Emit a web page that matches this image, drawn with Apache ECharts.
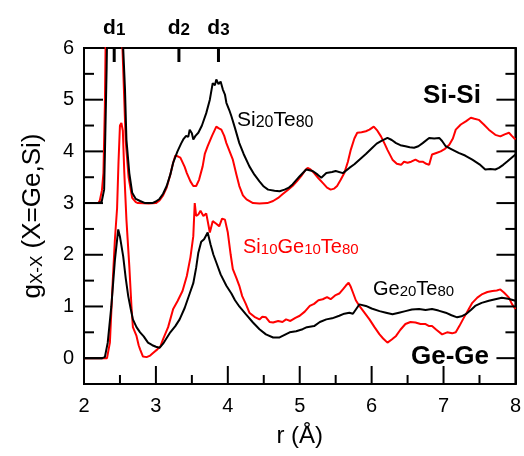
<!DOCTYPE html>
<html><head><meta charset="utf-8">
<script src="https://cdn.jsdelivr.net/npm/echarts@6/dist/echarts.min.js"></script>
<style>html,body{margin:0;padding:0;background:#fff}#c{width:524px;height:456px}</style>
</head><body><div id="c"></div>
<script>
const FONT = 'Liberation Sans, Arial, Helvetica, sans-serif';
const SI_SHIFT = 3;               // Si-Si curves are shifted up by 3
const xRange = [2, 8];
const yRange = [-0.5, 6];
const xMajorTicks = [3, 4, 5, 6, 7];
const xMinorTicks = [2.5, 3.5, 4.5, 5.5, 6.5, 7.5];
const yLabels = [0, 1, 2, 3, 4, 5, 6];
const yMajorTicks = [0, 1, 2, 3, 4, 5];
const yMinorTicks = [0.5, 1.5, 2.5, 3.5, 4.5, 5.5];
const dMarks = [2.42, 3.32, 3.87];
const dNames = ['1', '2', '3'];

// Si-Si pair correlation, Si20Te80 (black), unshifted
const siSi_Si20Te80 = [[2.0,0],[2.2,0],[2.245,0.02],[2.28,0.26],[2.295,1.23],[2.315,2.64],[2.33,4.0],[2.38,6.5],[2.43,7.5],[2.48,6.0],[2.52,4.0],[2.545,3.0],[2.57,2.2],[2.59,1.23],[2.63,0.58],[2.67,0.2],[2.72,0.08],[2.78,0.04],[2.85,0],[2.95,0],[3.0,0.03],[3.05,0.08],[3.1,0.18],[3.15,0.33],[3.2,0.55],[3.24,0.78],[3.3,1.0],[3.35,1.15],[3.38,1.23],[3.42,1.3],[3.45,1.28],[3.47,1.42],[3.5,1.35],[3.52,1.23],[3.55,1.3],[3.59,1.36],[3.64,1.5],[3.7,1.74],[3.75,2.0],[3.79,2.32],[3.82,2.28],[3.84,2.39],[3.87,2.3],[3.9,2.35],[3.93,2.2],[3.96,2.1],[3.98,1.94],[4.02,1.8],[4.05,1.68],[4.1,1.45],[4.16,1.16],[4.22,0.95],[4.3,0.71],[4.37,0.55],[4.44,0.42],[4.5,0.32],[4.56,0.26],[4.65,0.24],[4.72,0.23],[4.79,0.26],[4.85,0.3],[4.9,0.36],[5.0,0.52],[5.09,0.65],[5.18,0.62],[5.25,0.55],[5.3,0.49],[5.37,0.58],[5.45,0.6],[5.5,0.62],[5.6,0.58],[5.69,0.68],[5.76,0.75],[5.83,0.84],[5.92,0.95],[6.01,1.07],[6.07,1.15],[6.13,1.2],[6.22,1.26],[6.28,1.22],[6.34,1.16],[6.4,1.12],[6.47,1.1],[6.53,1.08],[6.59,1.07],[6.65,1.1],[6.71,1.16],[6.8,1.26],[6.87,1.25],[6.94,1.26],[6.98,1.2],[7.03,1.1],[7.1,1.05],[7.21,0.97],[7.3,0.92],[7.4,0.84],[7.5,0.75],[7.58,0.65],[7.65,0.66],[7.72,0.65],[7.77,0.68],[7.83,0.74],[7.89,0.81],[8.0,0.94]];

// Si-Si pair correlation, Si10Ge10Te80 (red), unshifted
const siSi_Si10Ge10Te80 = [[2.0,0],[2.2,0],[2.22,0.05],[2.25,0.25],[2.27,0.58],[2.29,1.87],[2.3,3.0],[2.32,5.0],[2.36,7.0],[2.42,8.0],[2.48,6.5],[2.52,4.0],[2.535,3.0],[2.56,2.0],[2.58,1.2],[2.62,0.5],[2.67,0.1],[2.72,0.02],[2.75,0],[2.9,-0.01],[3.0,0],[3.05,0.05],[3.1,0.15],[3.15,0.3],[3.2,0.55],[3.24,0.78],[3.27,0.92],[3.31,0.9],[3.34,0.88],[3.36,0.85],[3.4,0.7],[3.43,0.58],[3.48,0.42],[3.52,0.33],[3.56,0.33],[3.6,0.45],[3.65,0.71],[3.68,0.95],[3.72,1.1],[3.78,1.3],[3.84,1.48],[3.87,1.45],[3.91,1.42],[3.95,1.3],[3.98,1.16],[4.07,0.84],[4.12,0.55],[4.16,0.33],[4.21,0.15],[4.26,0.07],[4.35,0],[4.44,-0.01],[4.55,0],[4.63,0.04],[4.7,0.1],[4.76,0.17],[4.83,0.25],[4.9,0.33],[4.96,0.42],[5.02,0.52],[5.08,0.64],[5.11,0.68],[5.15,0.65],[5.2,0.58],[5.26,0.48],[5.32,0.39],[5.38,0.3],[5.43,0.26],[5.48,0.28],[5.52,0.33],[5.57,0.45],[5.62,0.58],[5.67,0.8],[5.71,1.03],[5.76,1.25],[5.8,1.36],[5.86,1.37],[5.92,1.39],[5.97,1.42],[6.03,1.48],[6.08,1.4],[6.13,1.29],[6.18,1.15],[6.22,1.03],[6.29,0.84],[6.35,0.76],[6.41,0.74],[6.45,0.8],[6.5,0.78],[6.55,0.8],[6.61,0.84],[6.66,0.8],[6.71,0.8],[6.76,0.76],[6.8,0.74],[6.84,0.94],[6.9,0.97],[6.96,1.0],[7.02,1.05],[7.08,1.13],[7.13,1.25],[7.17,1.42],[7.24,1.52],[7.31,1.58],[7.38,1.65],[7.43,1.63],[7.49,1.61],[7.56,1.52],[7.63,1.42],[7.72,1.32],[7.79,1.29],[7.85,1.33],[7.91,1.36],[7.95,1.3],[8.0,1.23]];

// Ge-Ge pair correlation, Ge20Te80 (black)
const geGe_Ge20Te80 = [[2.0,0],[2.25,0],[2.29,0.02],[2.33,0.3],[2.38,1.0],[2.43,1.9],[2.476,2.49],[2.5,2.35],[2.545,1.97],[2.58,1.55],[2.615,1.2],[2.65,0.95],[2.68,0.75],[2.73,0.6],[2.78,0.5],[2.83,0.42],[2.89,0.3],[2.95,0.25],[3.0,0.22],[3.05,0.2],[3.1,0.28],[3.2,0.5],[3.27,0.62],[3.33,0.75],[3.4,0.97],[3.47,1.25],[3.52,1.45],[3.56,1.75],[3.59,2.04],[3.63,2.25],[3.67,2.3],[3.72,2.43],[3.76,2.2],[3.8,2.0],[3.84,1.85],[3.9,1.62],[3.98,1.4],[4.05,1.25],[4.1,1.12],[4.16,1.0],[4.25,0.85],[4.35,0.69],[4.44,0.56],[4.53,0.46],[4.63,0.4],[4.72,0.4],[4.79,0.45],[4.86,0.5],[4.95,0.52],[5.04,0.56],[5.1,0.6],[5.2,0.62],[5.28,0.7],[5.37,0.75],[5.45,0.77],[5.55,0.82],[5.62,0.86],[5.69,0.88],[5.74,0.86],[5.8,0.98],[5.83,1.04],[5.92,1.01],[6.0,0.96],[6.11,0.91],[6.2,0.88],[6.29,0.85],[6.38,0.88],[6.47,0.91],[6.56,0.94],[6.66,0.95],[6.75,0.93],[6.84,0.95],[6.93,0.92],[7.03,0.88],[7.11,0.83],[7.19,0.79],[7.25,0.81],[7.31,0.85],[7.38,0.93],[7.44,1.01],[7.53,1.07],[7.63,1.11],[7.72,1.14],[7.81,1.17],[7.9,1.15],[8.0,1.11]];

// Ge-Ge pair correlation, Si10Ge10Te80 (red)
const geGe_Si10Ge10Te80 = [[2.0,0],[2.32,0],[2.36,0.3],[2.4,1.5],[2.43,2.3],[2.46,2.9],[2.48,3.8],[2.5,4.5],[2.52,4.55],[2.54,4.4],[2.56,3.6],[2.59,2.68],[2.63,1.78],[2.66,1.0],[2.68,0.6],[2.71,0.5],[2.73,0.43],[2.76,0.25],[2.78,0.17],[2.82,0.03],[2.87,0.02],[2.92,0.05],[2.96,0.1],[3.02,0.17],[3.06,0.22],[3.1,0.37],[3.17,0.6],[3.24,0.95],[3.3,1.1],[3.37,1.3],[3.43,1.59],[3.48,1.95],[3.52,2.36],[3.54,3.0],[3.56,2.75],[3.59,2.78],[3.62,2.85],[3.66,2.75],[3.7,2.8],[3.72,2.81],[3.75,2.43],[3.79,2.65],[3.84,2.6],[3.88,2.55],[3.92,2.7],[3.96,2.68],[4.0,2.43],[4.04,2.0],[4.07,1.72],[4.12,1.55],[4.16,1.4],[4.2,1.2],[4.25,1.05],[4.3,0.88],[4.37,0.8],[4.44,0.75],[4.48,0.8],[4.53,0.79],[4.58,0.7],[4.63,0.69],[4.7,0.72],[4.76,0.7],[4.81,0.75],[4.87,0.72],[4.94,0.78],[5.0,0.82],[5.07,0.9],[5.14,1.01],[5.2,1.05],[5.26,1.12],[5.32,1.14],[5.38,1.18],[5.43,1.14],[5.5,1.22],[5.55,1.25],[5.6,1.33],[5.64,1.4],[5.68,1.46],[5.71,1.38],[5.74,1.27],[5.78,1.12],[5.83,1.01],[5.9,0.88],[5.97,0.75],[6.04,0.6],[6.11,0.46],[6.16,0.38],[6.22,0.3],[6.28,0.36],[6.34,0.43],[6.4,0.55],[6.47,0.66],[6.54,0.7],[6.61,0.69],[6.68,0.66],[6.75,0.66],[6.8,0.62],[6.84,0.62],[6.9,0.55],[6.98,0.46],[7.05,0.5],[7.12,0.48],[7.17,0.5],[7.22,0.62],[7.27,0.75],[7.33,0.9],[7.4,1.07],[7.47,1.17],[7.54,1.24],[7.61,1.28],[7.68,1.3],[7.74,1.31],[7.79,1.33],[7.84,1.27],[7.91,1.17],[7.95,1.05],[8.0,0.95]];

const shifted = arr => arr.map(p => [p[0], p[1] + SI_SHIFT]);

const chart = echarts.init(document.getElementById('c'));
const line = () => ({show: true, onZero: false, lineStyle: {color: '#000', width: 2}});
const subRich = (main, sub, color, bold) => ({
  m: {fontSize: main, fontFamily: FONT, fontWeight: bold ? 'bold' : 'normal', lineHeight: main + 4, verticalAlign: 'bottom', color: color, fill: color},
  s: {fontSize: sub, fontFamily: FONT, fontWeight: bold ? 'bold' : 'normal', lineHeight: 8, verticalAlign: 'bottom', color: color, fill: color}
});

// tick marks drawn through the axes' own scale (api.coord), pointing into the plot
function tickSeries(name, items, dx, dy, len, width) {
  return {
    name: name, type: 'custom', xAxisIndex: 0, yAxisIndex: 0, silent: true, z: 10,
    data: items,
    renderItem: function (params, api) {
      const p = api.coord([api.value(0), api.value(1)]);
      return {type: 'line', shape: {x1: p[0], y1: p[1], x2: p[0] + dx * len, y2: p[1] + dy * len},
              style: {stroke: '#000', lineWidth: width}};
    }
  };
}

const option = {
  animation: false,
  grid: {left: 84, right: 7, top: 48, bottom: 72, show: true, borderColor: '#000', borderWidth: 2, backgroundColor: 'transparent'},
  xAxis: [
    {type: 'value', position: 'bottom', min: xRange[0], max: xRange[1], interval: 1,
     axisLine: line(), splitLine: {show: false}, axisTick: {show: false}, minorTick: {show: false},
     axisLabel: {show: true, fontSize: 20, color: '#000', fontFamily: FONT, margin: 12},
     name: 'r (Å)', nameLocation: 'middle', nameGap: 40,
     nameTextStyle: {fontSize: 24, color: '#000', fontFamily: FONT}},
    {type: 'value', position: 'top', min: xRange[0], max: xRange[1],
     axisLine: line(), splitLine: {show: false}, axisTick: {show: false},
     axisLabel: {show: true, customValues: dMarks.slice(), margin: 9, hideOverlap: false,
       formatter: v => { const i = dMarks.findIndex(d => Math.abs(d - v) < 1e-6); return '{m|d}{s|' + dNames[i] + '}'; },
       rich: subRich(21, 17, '#000', true)}}
  ],
  yAxis: [
    {type: 'value', position: 'left', min: yRange[0], max: yRange[1],
     axisLine: line(), splitLine: {show: false}, axisTick: {show: false},
     axisLabel: {show: true, customValues: yLabels.slice(), fontSize: 20, color: '#000', fontFamily: FONT, margin: 10}},
    {type: 'value', position: 'right', min: yRange[0], max: yRange[1],
     axisLine: line(), splitLine: {show: false}, axisTick: {show: false}, axisLabel: {show: false}}
  ],
  series: [
    {name: 'Si-Si Si10Ge10Te80', type: 'line', data: shifted(siSi_Si10Ge10Te80), showSymbol: false, lineStyle: {color: '#ff0000', width: 2}},
    {name: 'Ge-Ge Si10Ge10Te80', type: 'line', data: geGe_Si10Ge10Te80, showSymbol: false, lineStyle: {color: '#ff0000', width: 2}},
    {name: 'Si-Si Si20Te80', type: 'line', data: shifted(siSi_Si20Te80), showSymbol: false, lineStyle: {color: '#000', width: 2}},
    {name: 'Ge-Ge Ge20Te80', type: 'line', data: geGe_Ge20Te80, showSymbol: false, lineStyle: {color: '#000', width: 2}},
    tickSeries('xMajor', xMajorTicks.map(v => [v, yRange[0]]), 0, -1, 18, 2),
    tickSeries('xMinor', xMinorTicks.map(v => [v, yRange[0]]), 0, -1, 9, 2),
    tickSeries('yMajorL', yMajorTicks.map(v => [xRange[0], v]), 1, 0, 19, 2),
    tickSeries('yMinorL', yMinorTicks.map(v => [xRange[0], v]), 1, 0, 10, 2),
    tickSeries('yMajorR', yMajorTicks.map(v => [xRange[1], v]), -1, 0, 19, 2),
    tickSeries('yMinorR', yMinorTicks.map(v => [xRange[1], v]), -1, 0, 10, 2),
    tickSeries('dMarks', dMarks.map(v => [v, yRange[1]]), 0, 1, 14, 3)
  ],
  graphic: [
    {type: 'text', x: 31, y: 216, rotation: Math.PI / 2,
     style: {text: '{m|g}{s|X-X}{m| (X=Ge,Si)}', rich: subRich(26, 17, '#000', false), fill: '#000', align: 'center', verticalAlign: 'middle'}},
    {type: 'text', x: 452, y: 96, style: {text: 'Si-Si', fontSize: 26, fontWeight: 'bold', fontFamily: FONT, fill: '#000', align: 'center', verticalAlign: 'middle'}},
    {type: 'text', x: 450, y: 357, style: {text: 'Ge-Ge', fontSize: 26, fontWeight: 'bold', fontFamily: FONT, fill: '#000', align: 'center', verticalAlign: 'middle'}},
    {type: 'text', x: 237, y: 131, style: {text: '{m|Si}{s|20}{m|Te}{s|80}', rich: subRich(21, 16, '#000', false), fill: '#000', align: 'left', verticalAlign: 'bottom'}},
    {type: 'text', x: 243, y: 257, style: {text: '{m|Si}{s|10}{m|Ge}{s|10}{m|Te}{s|80}', rich: subRich(20, 15, '#ff0000', false), fill: '#ff0000', align: 'left', verticalAlign: 'bottom'}},
    {type: 'text', x: 373, y: 299, style: {text: '{m|Ge}{s|20}{m|Te}{s|80}', rich: subRich(20, 15, '#000', false), fill: '#000', align: 'left', verticalAlign: 'bottom'}}
  ]
};
chart.setOption(option);
</script>
</body></html>
